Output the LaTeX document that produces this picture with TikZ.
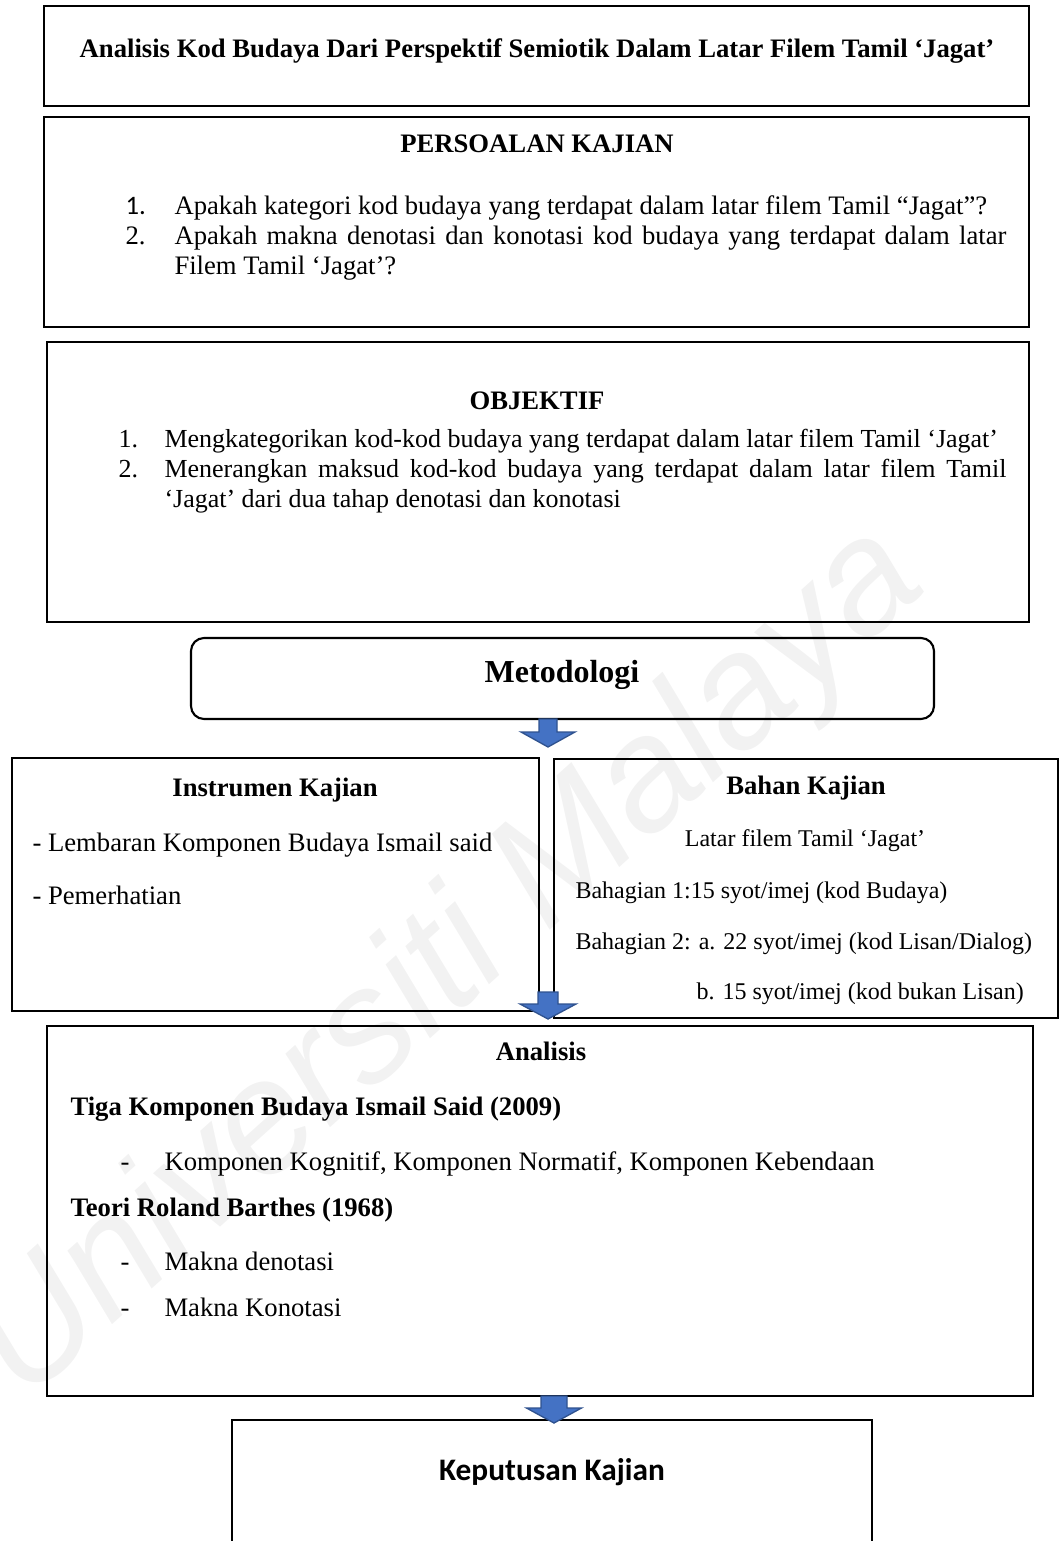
\documentclass[tikz,border=0pt]{standalone}
\usepackage{fontspec}
\setmainfont{Liberation Serif}
\newfontfamily\calibrifont{Carlito}
\newfontfamily\markfont{Liberation Sans}
\usetikzlibrary{calc,fit}

\tikzset{every picture/.style={line width=0.75pt}}
\tikzset{
  box/.style={draw, line width=1.6pt, inner sep=0pt, outer sep=0pt},
  roundbox/.style={box, rounded corners=9.75pt},
  txt/.style={inner sep=0pt, text height=13.8pt, text depth=4.4pt, font=\fontsize{20}{24}\selectfont},
  objtxt/.style={txt, font=\fontsize{19.5}{23}\selectfont},
  headtxt/.style={txt, font=\fontsize{20}{24}\selectfont\bfseries},
  smalltxt/.style={inner sep=0pt, text height=12.4pt, text depth=4pt, font=\fontsize{18}{22}\selectfont},
  blockarrow/.style={draw={rgb, 255:red, 47; green, 82; blue, 143}, fill={rgb, 255:red, 68; green, 114; blue, 196}, line width=1pt, line join=miter},
}

\begin{document}
\begin{tikzpicture}[x=0.75pt,y=0.75pt,yscale=-1,xscale=1]
	\useasboundingbox (0,0) rectangle (1060,1541);
	
	% Watermark
	\draw (450,965) node [inner sep=0pt, rotate=42, text=black!5, font=\markfont\itshape\fontsize{120}{120}\selectfont] (mark) {Universiti Malaya};
	
	%Shape: Rectangle [title]
	\node [box, fit={(44,6) (1029,106)}] (title) {};
	%Shape: Rectangle [persoalan]
	\node [box, fit={(44,117) (1029,327)}] (soalan) {};
	%Shape: Rectangle [objektif]
	\node [box, fit={(47,342) (1029,622)}] (objektif) {};
	%Shape: Rounded Rectangle [metodologi]
	\node [roundbox, fit={(191,638) (934,719)}] (metod) {};
	%Shape: Rectangle [instrumen]
	\node [box, fit={(12,758) (539,1011)}] (instrumen) {};
	%Shape: Rectangle [bahan]
	\node [box, fit={(554,759) (1058,1018)}] (bahan) {};
	%Shape: Rectangle [analisis]
	\node [box, fit={(47,1026) (1033,1396)}] (analisis) {};
	%Shape: Rectangle [keputusan]
	\node [box, fit={(232,1420) (872,1560)}] (keputusan) {};
	
	%Shape: Down Arrow
	\draw [blockarrow] ($(metod.south)+(-23.5,0)$) -- ++(0,13) -- ++(-18,0) -- ++(27,15) -- ++(27,-15) -- ++(-18,0) -- ++(0,-13) -- cycle ;
	%Shape: Down Arrow
	\coordinate (join) at ($(instrumen.south east)+(9,-19)$);
	\draw [blockarrow] ($(join)+(-10,0)$) -- ++(0,12) -- ++(-18,0) -- ++(28,15) -- ++(28,-15) -- ++(-18,0) -- ++(0,-12) -- cycle ;
	%Shape: Down Arrow
	\draw [blockarrow] ($(analisis.south)+(1,0)$) -- ++(0,12) -- ++(-14.5,0) -- ++(27.5,15) -- ++(27.5,-15) -- ++(-14.5,0) -- ++(0,-12) -- cycle ;
	
	% Text Node
	\draw (537,51) node [headtxt] (titletxt) {Analisis Kod Budaya Dari Perspektif Semiotik Dalam Latar Filem Tamil ‘Jagat’};
	% Text Node
	\draw (537,146) node [headtxt] (soalanhead) {PERSOALAN KAJIAN};
	% Text Node
	\draw (125,208) node [txt, anchor=west, font=\calibrifont\fontsize{20}{24}\selectfont] (soalannum1) {1.};
	% Text Node
	\draw (174,208) node [txt, anchor=west] (soalan1) {Apakah kategori kod budaya yang terdapat dalam latar filem Tamil “Jagat”?};
	% Text Node
	\draw (125,238) node [txt, anchor=west] (soalannum2) {2.};
	% Text Node
	\draw (174,238) node [txt, anchor=west] (soalan2) {\makebox[624pt][s]{Apakah makna denotasi dan konotasi kod budaya yang terdapat dalam latar}};
	% Text Node
	\draw (174,268) node [txt, anchor=west] (soalan2b) {Filem Tamil ‘Jagat’?};
	
	% Text Node
	\draw (537,403) node [headtxt] (objhead) {OBJEKTIF};
	% Text Node
	\draw (118,441) node [objtxt, anchor=west] (objnum1) {1.};
	% Text Node
	\draw (164,441) node [objtxt, anchor=west] (obj1) {Mengkategorikan kod-kod budaya yang terdapat dalam latar filem Tamil ‘Jagat’};
	% Text Node
	\draw (118,471) node [objtxt, anchor=west] (objnum2) {2.};
	% Text Node
	\draw (164,471) node [objtxt, anchor=west] (obj2) {\makebox[631.5pt][s]{Menerangkan maksud kod-kod budaya yang terdapat dalam latar filem Tamil}};
	% Text Node
	\draw (164,501) node [objtxt, anchor=west] (obj2b) {‘Jagat’ dari dua tahap denotasi dan konotasi};
	
	% Text Node
	\draw (562,675) node [inner sep=0pt, font=\fontsize{24}{28}\selectfont\bfseries] (metodtxt) {Metodologi};
	
	% Text Node
	\draw (275,790) node [headtxt] (insthead) {Instrumen Kajian};
	% Text Node
	\draw (32,845) node [txt, anchor=west] (inst1) {- Lembaran Komponen Budaya Ismail said};
	% Text Node
	\draw (32,898) node [txt, anchor=west] (inst2) {- Pemerhatian};
	
	% Text Node
	\draw (806,788) node [headtxt] (bahanhead) {Bahan Kajian};
	% Text Node
	\draw (805,841) node [smalltxt] (bahan0) {Latar filem Tamil ‘Jagat’};
	% Text Node
	\draw (575,893) node [smalltxt, anchor=west] (bahan1) {Bahagian 1:15 syot/imej (kod Budaya)};
	% Text Node
	\draw (575,944) node [smalltxt, anchor=west] (bahan2) {Bahagian 2: a. 22 syot/imej (kod Lisan/Dialog)};
	% Text Node
	\draw (696,994) node [smalltxt, anchor=west] (bahan3) {b. 15 syot/imej (kod bukan Lisan)};
	
	% Text Node
	\draw (541,1054) node [headtxt] (analhead) {Analisis};
	% Text Node
	\draw (70,1109) node [headtxt, anchor=west] (teori1) {Tiga Komponen Budaya Ismail Said (2009)};
	% Text Node
	\draw (120,1164) node [txt, anchor=west] (dash1) {-};
	% Text Node
	\draw (164,1164) node [txt, anchor=west] (komp) {Komponen Kognitif, Komponen Normatif, Komponen Kebendaan};
	% Text Node
	\draw (70,1210) node [headtxt, anchor=west] (teori2) {Teori Roland Barthes (1968)};
	% Text Node
	\draw (120,1264) node [txt, anchor=west] (dash2) {-};
	% Text Node
	\draw (164,1264) node [txt, anchor=west] (makna1) {Makna denotasi};
	% Text Node
	\draw (120,1310) node [txt, anchor=west] (dash3) {-};
	% Text Node
	\draw (164,1310) node [txt, anchor=west] (makna2) {Makna Konotasi};
	
	% Text Node
	\draw (552,1472) node [inner sep=0pt, font=\calibrifont\bfseries\fontsize{23.5}{28}\selectfont] (keptxt) {Keputusan Kajian};
	
\end{tikzpicture}
\end{document}
